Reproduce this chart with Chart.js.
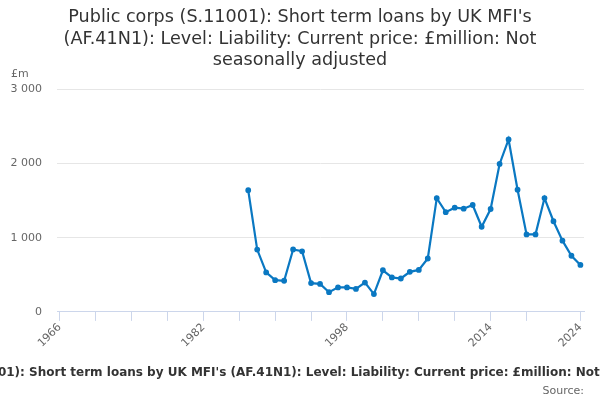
<!DOCTYPE html>
<html>
<head>
<meta charset="utf-8">
<script src="https://cdn.jsdelivr.net/npm/chart.js@4"></script>
<style>
  html, body { margin: 0; padding: 0; background: #fff; }
  #wrap { width: 600px; height: 400px; }
</style>
</head>
<body>
<div id="wrap"><canvas id="myChart" width="600" height="400"></canvas></div>
<script>
const titleLines = [
  "Public corps (S.11001): Short term loans by UK MFI's",
  "(AF.41N1): Level: Liability: Current price: £million: Not",
  "seasonally adjusted"
];
const footerText = "Public corps (S.11001): Short term loans by UK MFI's (AF.41N1): Level: Liability: Current price: £million: Not seasonally adjusted";
const sourceText = "Source:";
const unitLabel = "£m";

const years = [
  1987, 1988, 1989, 1990, 1991, 1992, 1993, 1994, 1995, 1996,
  1997, 1998, 1999, 2000, 2001, 2002, 2003, 2004, 2005, 2006,
  2007, 2008, 2009, 2010, 2011, 2012, 2013, 2014, 2015, 2016,
  2017, 2018, 2019, 2020, 2021, 2022, 2023, 2024
];
const loans = [
  1640, 840, 532, 428, 420, 842, 817, 388, 377, 265,
  330, 330, 310, 395, 240, 561, 465, 450, 540, 566,
  720, 1533, 1345, 1405, 1392, 1441, 1148, 1387, 1995, 2325,
  1647, 1045, 1045, 1535, 1222, 960, 757, 633
];
const tickYears = [1966, 1970, 1974, 1978, 1982, 1986, 1990, 1994, 1998, 2002, 2006, 2010, 2014, 2018, 2024];
const labelYears = [1966, 1982, 1998, 2014, 2024];
const yTicks = [0, 1000, 2000, 3000];

const points = years.map((yr, i) => ({ x: yr, y: loans[i] }));

// extra texts: unit above y axis, footer and source
const extraText = {
  id: "extraText",
  afterDraw(chart) {
    const ctx = chart.ctx;
    const area = chart.chartArea;
    ctx.save();
    ctx.fillStyle = "#666666";
    ctx.font = "11px 'DejaVu Sans'";
    ctx.textAlign = "left";
    ctx.textBaseline = "middle";
    ctx.fillText(unitLabel, 11, area.top - 15);

    ctx.fillStyle = "#333333";
    ctx.font = "bold 12px 'DejaVu Sans'";
    ctx.textAlign = "center";
    ctx.fillText(footerText, 303, 373);

    ctx.fillStyle = "#666666";
    ctx.font = "11px 'DejaVu Sans'";
    ctx.textAlign = "right";
    ctx.fillText(sourceText, 584, 391);
    ctx.restore();
  }
};

new Chart(document.getElementById("myChart"), {
  type: "line",
  data: {
    datasets: [{
      label: "Short term loans",
      data: points,
      borderColor: "#0a78c2",
      backgroundColor: "#0a78c2",
      borderWidth: 2.2,
      pointRadius: 1.8,
      pointHoverRadius: 3,
      tension: 0,
      fill: false
    }]
  },
  options: {
    responsive: false,
    animation: false,
    layout: { padding: { left: 0, right: 0, top: 0, bottom: 50 } },
    plugins: {
      legend: { display: false },
      tooltip: { enabled: false },
      title: {
        display: true,
        text: titleLines,
        color: "#333333",
        font: { family: "'DejaVu Sans'", size: 17.6, weight: "normal", lineHeight: 1.22 },
        padding: { top: 7, bottom: 18 }
      }
    },
    scales: {
      x: {
        type: "linear",
        min: 1965.7,
        max: 2024.4,
        afterBuildTicks(scale) {
          scale.ticks = tickYears.map(v => ({ value: v }));
        },
        afterFit(scale) {
          scale.paddingRight = 16;
        },
        ticks: {
          autoSkip: false,
          maxRotation: 45,
          minRotation: 45,
          color: "#666666",
          font: { family: "'DejaVu Sans'", size: 11 },
          padding: 0,
          callback: v => labelYears.includes(v) ? String(v) : ""
        },
        grid: {
          drawOnChartArea: false,
          drawTicks: true,
          tickLength: 9,
          color: "#ccd6eb"
        },
        border: { color: "#ccd6eb", width: 1 }
      },
      y: {
        min: 0,
        max: 3000,
        afterBuildTicks(scale) {
          scale.ticks = yTicks.map(v => ({ value: v }));
        },
        afterFit(scale) {
          scale.width = 57;
        },
        ticks: {
          color: "#666666",
          font: { family: "'DejaVu Sans'", size: 11 },
          padding: 15,
          callback: v => v.toLocaleString("en-GB").replace(/,/g, " ")
        },
        grid: {
          color: "#e6e6e6",
          drawTicks: false
        },
        border: { display: false }
      }
    }
  },
  plugins: [extraText]
});
</script>
</body>
</html>
